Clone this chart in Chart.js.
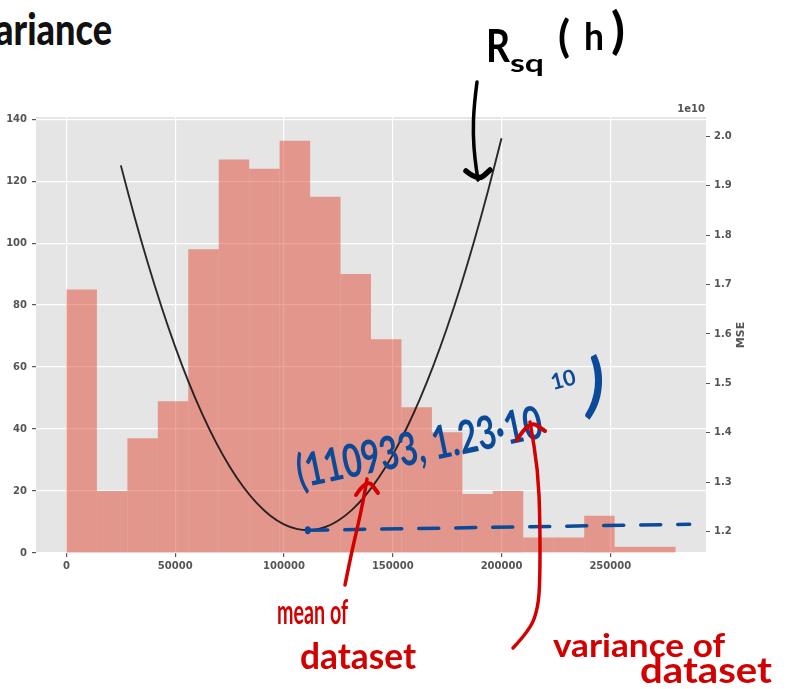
<!DOCTYPE html>
<html>
<head>
<meta charset="utf-8">
<script src="https://cdn.jsdelivr.net/npm/chart.js@4.4.1/dist/chart.umd.min.js"></script>
<style>
    html, body { margin: 0; padding: 0; background: #fff; overflow: hidden; }
    #wrap { position: absolute; left: 0; top: 0; width: 797px; height: 689px; }
    #title {
        position: absolute; left: -300px; top: 2px; width: 412px; text-align: right;
        font: 900 44px Lato, sans-serif; color: #111; white-space: nowrap;
        transform: scaleX(0.82); transform-origin: right top;
    }
</style>
</head>
<body>
<div id="title">Variance</div>
<div id="wrap"><canvas id="histChart"></canvas></div>
<script>
// Histogram bins (width 14000) and counts
const binStarts = [0, 14000, 28000, 42000, 56000, 70000, 84000, 98000, 112000, 126000,
                   140000, 154000, 168000, 182000, 196000, 210000, 224000, 238000, 252000, 266000];
const binWidth = 14000;
const counts = [85, 20, 37, 49, 98, 127, 124, 133, 115, 90, 69, 47, 39, 19, 20, 5, 5, 12, 2, 2];

// MSE curve (units of 1e10)
const curveH = [25000, 31250, 37500, 43750, 50000, 56250, 62500, 68750, 75000, 81250,
                87500, 93750, 100000, 106250, 112500, 118750, 125000, 131250, 137500, 143750,
                150000, 156250, 162500, 168750, 175000, 181250, 187500, 193750, 200000];
const curveMse = [1.9411, 1.8375, 1.7418, 1.6540, 1.5739, 1.5016, 1.4372, 1.3805, 1.3317, 1.2907,
                  1.2575, 1.2321, 1.2146, 1.2048, 1.2028, 1.2087, 1.2224, 1.2439, 1.2732, 1.3103,
                  1.3552, 1.4080, 1.4685, 1.5369, 1.6131, 1.6971, 1.7889, 1.8885, 1.9959];

// Tick labels
const xTicks = [0, 50000, 100000, 150000, 200000, 250000];
const countTicks = [0, 20, 40, 60, 80, 100, 120, 140];
const mseTicks = [1.2, 1.3, 1.4, 1.5, 1.6, 1.7, 1.8, 1.9, 2.0];

// Handwritten note anchors (data coords)
const meanH = 110933;
const minMse = 1.2026;
const dashEnd = [286500, 1.2148];

const GRAY = '#555555';

// smooth ink stroke through points
function inkStroke(ctx, pts, color, width) {
    ctx.save();
    ctx.strokeStyle = color;
    ctx.lineWidth = width;
    ctx.lineCap = 'round';
    ctx.lineJoin = 'round';
    ctx.beginPath();
    ctx.moveTo(pts[0][0], pts[0][1]);
    for (let i = 1; i < pts.length - 1; i++) {
        const mx = (pts[i][0] + pts[i + 1][0]) / 2;
        const my = (pts[i][1] + pts[i + 1][1]) / 2;
        ctx.quadraticCurveTo(pts[i][0], pts[i][1], mx, my);
    }
    const last = pts[pts.length - 1];
    ctx.lineTo(last[0], last[1]);
    ctx.stroke();
    ctx.restore();
}

// text squeezed to a target width
function inkText(ctx, str, x, y, size, width, color, angle, weight) {
    ctx.save();
    ctx.font = (weight || 'bold') + ' ' + size + 'px Lato, sans-serif';
    ctx.fillStyle = color;
    ctx.textBaseline = 'alphabetic';
    ctx.textAlign = 'left';
    ctx.translate(x, y);
    if (angle) ctx.rotate(angle);
    const w = ctx.measureText(str).width;
    ctx.scale(width / w, 1);
    ctx.fillText(str, 0, 0);
    ctx.restore();
}

const inkPlugin = {
    id: 'ink',
    afterDraw(chart) {
        const ctx = chart.ctx;
        const x = chart.scales.x, y2 = chart.scales.y2;
        const area = chart.chartArea;

        // axis extras: offset label and right axis title
        ctx.save();
        ctx.fillStyle = GRAY;
        ctx.font = 'bold 10px "DejaVu Sans"';
        ctx.textAlign = 'right';
        ctx.textBaseline = 'bottom';
        ctx.fillText('1e10', area.right - 1, area.top - 3);
        ctx.translate(741, (area.top + area.bottom) / 2);
        ctx.rotate(-Math.PI / 2);
        ctx.textAlign = 'center';
        ctx.textBaseline = 'middle';
        ctx.font = 'bold 11px "DejaVu Sans"';
        ctx.fillText('MSE', 0, 0);
        ctx.restore();

        const blue = '#0b4a98', red = '#d20000', black = '#000';

        // dashed blue line from the minimum
        const x0 = x.getPixelForValue(meanH), yA = y2.getPixelForValue(minMse);
        const x1 = x.getPixelForValue(dashEnd[0]), yB = y2.getPixelForValue(dashEnd[1]);
        ctx.save();
        ctx.strokeStyle = blue;
        ctx.lineWidth = 3.5;
        ctx.lineCap = 'round';
        ctx.setLineDash([20, 17]);
        ctx.beginPath();
        ctx.moveTo(x0, yA);
        ctx.lineTo(x1, yB);
        ctx.stroke();
        ctx.restore();
        ctx.save();
        ctx.fillStyle = blue;
        ctx.beginPath();
        ctx.ellipse(x0, yA, 3, 4, 0, 0, Math.PI * 2);
        ctx.fill();
        ctx.restore();

        // blue coordinate note
        const ang = -0.205;
        inkText(ctx, '(110933, 1.23·10', 300, 488, 46, 250, blue, ang);
        inkText(ctx, '10', 553, 390, 22, 25, blue, -0.25);
        inkText(ctx, ')', 584, 408, 70, 18, blue, 0.1);

        // Rsq(h)
        inkText(ctx, 'R', 486, 62, 46, 24, black, 0);
        inkText(ctx, 'sq', 510, 72, 24, 34, black, 0);
        inkText(ctx, '(', 558, 52, 44, 12, black, 0);
        inkText(ctx, 'h', 584, 50, 38, 20, black, 0);
        inkText(ctx, ')', 611, 48, 50, 14, black, 0);

        // black arrow
        inkStroke(ctx, [[477, 82], [474, 105], [473, 135], [475, 160], [478, 180]], black, 3.5);
        inkStroke(ctx, [[466, 171], [478, 181], [490, 170]], black, 5.5);

        // red arrows
        inkStroke(ctx, [[345, 585], [351, 555], [358, 525], [363, 502], [367, 479]], red, 3.5);
        inkStroke(ctx, [[356, 495], [367, 478], [378, 493]], red, 4);
        inkStroke(ctx, [[513, 648], [530, 630], [538, 608], [540, 580], [540, 520], [538, 470], [530, 422]], red, 3.5);
        inkStroke(ctx, [[517, 440], [529, 420], [545, 431]], red, 4);

        // red notes
        inkText(ctx, 'mean of', 277, 624, 34, 71, red, 0);
        inkText(ctx, 'dataset', 300, 669, 36, 116, red, 0);
        inkText(ctx, 'variance of', 553, 657, 32, 172, red, 0);
        inkText(ctx, 'dataset', 640, 683, 36, 132, red, 0);
    }
};

const bgPlugin = {
    id: 'plotBg',
    beforeDraw(chart) {
        const a = chart.chartArea, ctx = chart.ctx;
        ctx.save();
        ctx.fillStyle = '#E5E5E5';
        ctx.fillRect(a.left, a.top, a.right - a.left, a.bottom - a.top);
        ctx.restore();
    }
};

Chart.defaults.font.family = '"DejaVu Sans"';
Chart.defaults.font.size = 10;
Chart.defaults.font.weight = 'bold';
Chart.defaults.color = GRAY;

const tickFrom = (arr) => (scale) => { scale.ticks = arr.map(v => ({ value: v })); };

new Chart(document.getElementById('histChart').getContext('2d'), {
    type: 'bar',
    data: {
        datasets: [{
            type: 'line',
            data: curveH.map((h, i) => ({ x: h, y: curveMse[i] })),
            yAxisID: 'y2',
            borderColor: 'rgba(20,20,20,0.9)',
            borderWidth: 1.9,
            pointRadius: 0,
            tension: 0.3,
            order: 0
        }, {
            type: 'bar',
            data: binStarts.map((b, i) => ({ x: b + binWidth / 2, y: counts[i] })),
            yAxisID: 'y',
            backgroundColor: 'rgba(226, 74, 51, 0.5)',
            borderWidth: 0,
            inflateAmount: 0,
            barPercentage: 1,
            categoryPercentage: 1,
            order: 1
        }]
    },
    options: {
        responsive: true,
        maintainAspectRatio: false,
        animation: false,
        layout: { padding: { top: 117, left: 0, right: 0, bottom: 0 } },
        plugins: { legend: { display: false }, tooltip: { enabled: false } },
        scales: {
            x: {
                type: 'linear',
                offset: false,
                min: -14000,
                max: 294000,
                afterBuildTicks: tickFrom(xTicks),
                afterFit: (s) => { s.height = 136; },
                grid: { offset: false, color: '#ffffff', lineWidth: 1.2, tickColor: GRAY, tickLength: 4 },
                border: { display: false },
                ticks: { padding: 3, maxRotation: 0, callback: (v) => String(v) }
            },
            y: {
                position: 'left',
                min: 0,
                max: 140.7,
                afterBuildTicks: tickFrom(countTicks),
                afterFit: (s) => { s.width = 36; },
                grid: { color: '#ffffff', lineWidth: 1.2, tickColor: GRAY, tickLength: 4 },
                border: { display: false },
                ticks: { padding: 5, callback: (v) => String(v) }
            },
            y2: {
                position: 'right',
                min: 1.1566,
                max: 2.039,
                afterBuildTicks: tickFrom(mseTicks),
                afterFit: (s) => { s.width = 91; },
                grid: { drawOnChartArea: false, tickColor: GRAY, tickLength: 4 },
                border: { display: false },
                ticks: { padding: 4, callback: (v) => v.toFixed(1) }
            }
        }
    },
    plugins: [bgPlugin, inkPlugin]
});
</script>
</body>
</html>
